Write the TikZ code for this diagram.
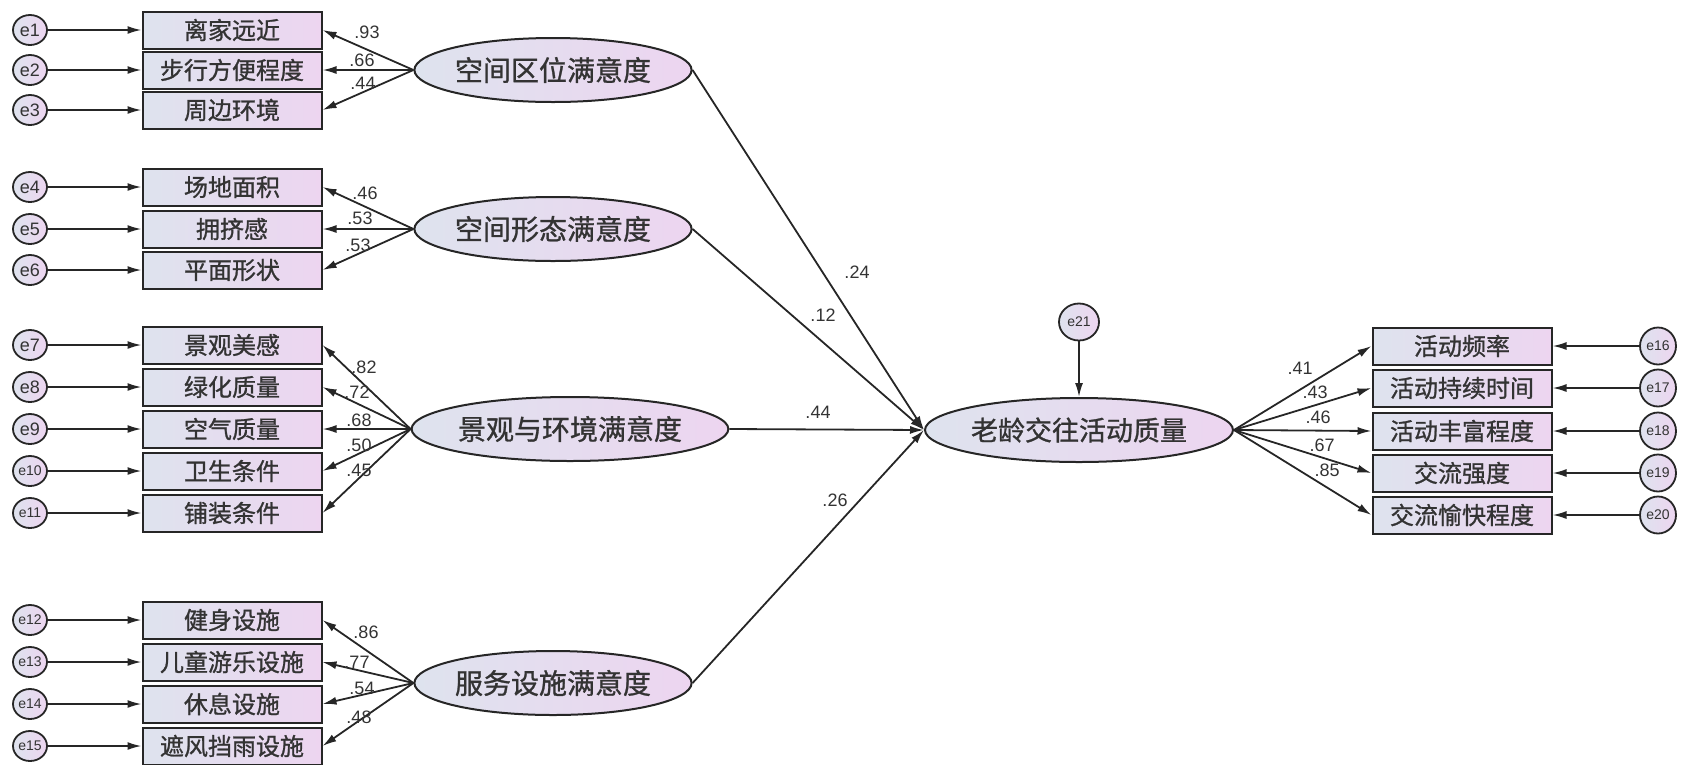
\documentclass[tikz,border=0pt]{standalone}
\usepackage{fontspec}
\setmainfont{Liberation Sans}
\newfontfamily\cjk[FakeBold=1]{Noto Sans CJK SC}
\usetikzlibrary{shapes.geometric,arrows.meta}
\definecolor{fillL}{HTML}{DEE3EE}
\definecolor{fillR}{HTML}{EDD5F0}
\definecolor{ink}{HTML}{262626}
\definecolor{txt}{HTML}{333333}
\tikzset{
	err/.style={ellipse,draw=ink,line width=1.8pt,left color=fillL,right color=fillR,inner sep=0pt,minimum width=34pt,minimum height=30pt,text=txt,font=\fontsize{18}{18}\selectfont},
	errs/.style={err,font=\fontsize{14}{14}\selectfont},
	obs/.style={rectangle,draw=ink,line width=2pt,left color=fillL,right color=fillR,inner sep=0pt,minimum width=179pt,minimum height=37pt,text=txt,font=\cjk\fontsize{24}{24}\selectfont},
	lat/.style={ellipse,draw=ink,line width=2pt,left color=fillL,right color=fillR,inner sep=0pt,minimum width=277pt,minimum height=64pt,text=txt,font=\cjk\fontsize{28}{28}\selectfont},
	lbl/.style={inner sep=0pt,text=txt,font=\fontsize{18}{18}\selectfont}
}

\begin{document}
\begin{tikzpicture}[x=1pt,y=-1pt,line width=1.8pt,draw=ink,>={Latex[length=14pt,width=8pt]}]
	\useasboundingbox (0,0) rectangle (1682,764);

	% left error terms
	\node[err] (e1) at (30,30) {e1};
	\node[err] (e2) at (30,70) {e2};
	\node[err] (e3) at (30,110) {e3};
	\node[err] (e4) at (30,187) {e4};
	\node[err] (e5) at (30,229) {e5};
	\node[err] (e6) at (30,270) {e6};
	\node[err] (e7) at (30,345) {e7};
	\node[err] (e8) at (30,387) {e8};
	\node[err] (e9) at (30,429) {e9};
	\node[errs] (e10) at (30,471) {e10};
	\node[errs] (e11) at (30,513) {e11};
	\node[errs] (e12) at (30,620) {e12};
	\node[errs] (e13) at (30,662) {e13};
	\node[errs] (e14) at (30,704) {e14};
	\node[errs] (e15) at (30,746) {e15};

	% indicators
	\node[obs] (x1) at (232,30) {离家远近};
	\node[obs] (x2) at (232,70) {步行方便程度};
	\node[obs] (x3) at (232,110) {周边环境};
	\node[obs] (x4) at (232,187) {场地面积};
	\node[obs] (x5) at (232,229) {拥挤感};
	\node[obs] (x6) at (232,270) {平面形状};
	\node[obs] (x7) at (232,345) {景观美感};
	\node[obs] (x8) at (232,387) {绿化质量};
	\node[obs] (x9) at (232,429) {空气质量};
	\node[obs] (x10) at (232,471) {卫生条件};
	\node[obs] (x11) at (232,513) {铺装条件};
	\node[obs] (x12) at (232,620) {健身设施};
	\node[obs] (x13) at (232,662) {儿童游乐设施};
	\node[obs] (x14) at (232,704) {休息设施};
	\node[obs] (x15) at (232,746) {遮风挡雨设施};

	% latent factors
	\node[lat] (f1) at (553,70) {空间区位满意度};
	\node[lat] (f2) at (553,229) {空间形态满意度};
	\node[lat,minimum width=311pt] (f3) at (570,429) {景观与环境满意度};
	\node[lat] (f4) at (553,683) {服务设施满意度};
	\node[lat,minimum width=308pt,font=\cjk\fontsize{27}{27}\selectfont] (q) at (1079,430) {老龄交往活动质量};
	\node[errs,minimum width=40pt,minimum height=37pt] (e21) at (1079,322) {e21};

	% right side
	\node[obs] (y1) at (1462,346) {活动频率};
	\node[obs] (y2) at (1462,388) {活动持续时间};
	\node[obs] (y3) at (1462,431) {活动丰富程度};
	\node[obs] (y4) at (1462,473) {交流强度};
	\node[obs] (y5) at (1462,515) {交流愉快程度};
	\node[errs,minimum width=36pt,minimum height=37pt] (e16) at (1658,346) {e16};
	\node[errs,minimum width=36pt,minimum height=37pt] (e17) at (1658,388) {e17};
	\node[errs,minimum width=36pt,minimum height=37pt] (e18) at (1658,431) {e18};
	\node[errs,minimum width=36pt,minimum height=37pt] (e19) at (1658,473) {e19};
	\node[errs,minimum width=36pt,minimum height=37pt] (e20) at (1658,515) {e20};

	% error arrows
	\draw[->] (e1) -- (x1);
	\draw[->] (e2) -- (x2);
	\draw[->] (e3) -- (x3);
	\draw[->] (e4) -- (x4);
	\draw[->] (e5) -- (x5);
	\draw[->] (e6) -- (x6);
	\draw[->] (e7) -- (x7);
	\draw[->] (e8) -- (x8);
	\draw[->] (e9) -- (x9);
	\draw[->] (e10) -- (x10);
	\draw[->] (e11) -- (x11);
	\draw[->] (e12) -- (x12);
	\draw[->] (e13) -- (x13);
	\draw[->] (e14) -- (x14);
	\draw[->] (e15) -- (x15);
	\draw[->] (e16) -- (y1);
	\draw[->] (e17) -- (y2);
	\draw[->] (e18) -- (y3);
	\draw[->] (e19) -- (y4);
	\draw[->] (e20) -- (y5);
	\draw[->] (e21) -- (q);

	% loadings
	\draw[->] (f1.west) -- (x1.east);
	\draw[->] (f1.west) -- (x2.east);
	\draw[->] (f1.west) -- (x3.east);
	\draw[->] (f2.west) -- (x4.east);
	\draw[->] (f2.west) -- (x5.east);
	\draw[->] (f2.west) -- (x6.east);
	\draw[->] (f3.west) -- (x7.east);
	\draw[->] (f3.west) -- (x8.east);
	\draw[->] (f3.west) -- (x9.east);
	\draw[->] (f3.west) -- (x10.east);
	\draw[->] (f3.west) -- (x11.east);
	\draw[->] (f4.west) -- (x12.east);
	\draw[->] (f4.west) -- (x13.east);
	\draw[->] (f4.west) -- (x14.east);
	\draw[->] (f4.west) -- (x15.east);
	\draw[->] (q.east) -- (y1.west);
	\draw[->] (q.east) -- (y2.west);
	\draw[->] (q.east) -- (y3.west);
	\draw[->] (q.east) -- (y4.west);
	\draw[->] (q.east) -- (y5.west);

	% paths
	\draw[->] (f1.east) -- (q.west);
	\draw[->] (f2.east) -- (q.west);
	\draw[->] (f3.east) -- (q.west);
	\draw[->] (f4.east) -- (q.west);

	% coefficients
	\node[lbl] (l1) at (367,32) {.93};
	\node[lbl] (l2) at (362,60) {.66};
	\node[lbl] (l3) at (363,83) {.44};
	\node[lbl] (l4) at (365,193) {.46};
	\node[lbl] (l5) at (360,218) {.53};
	\node[lbl] (l6) at (358,245) {.53};
	\node[lbl] (l7) at (364,367) {.82};
	\node[lbl] (l8) at (357,392) {.72};
	\node[lbl] (l9) at (359,420) {.68};
	\node[lbl] (l10) at (359,445) {.50};
	\node[lbl] (l11) at (359,470) {.45};
	\node[lbl] (l12) at (366,632) {.86};
	\node[lbl] (l13) at (357,662) {.77};
	\node[lbl] (l14) at (362,688) {.54};
	\node[lbl] (l15) at (359,717) {.48};
	\node[lbl] (p1) at (857,272) {.24};
	\node[lbl] (p2) at (823,315) {.12};
	\node[lbl] (p3) at (818,412) {.44};
	\node[lbl] (p4) at (835,500) {.26};
	\node[lbl] (r1) at (1300,368) {.41};
	\node[lbl] (r2) at (1315,392) {.43};
	\node[lbl] (r3) at (1318,417) {.46};
	\node[lbl] (r4) at (1322,445) {.67};
	\node[lbl] (r5) at (1327,470) {.85};
\end{tikzpicture}
\end{document}
